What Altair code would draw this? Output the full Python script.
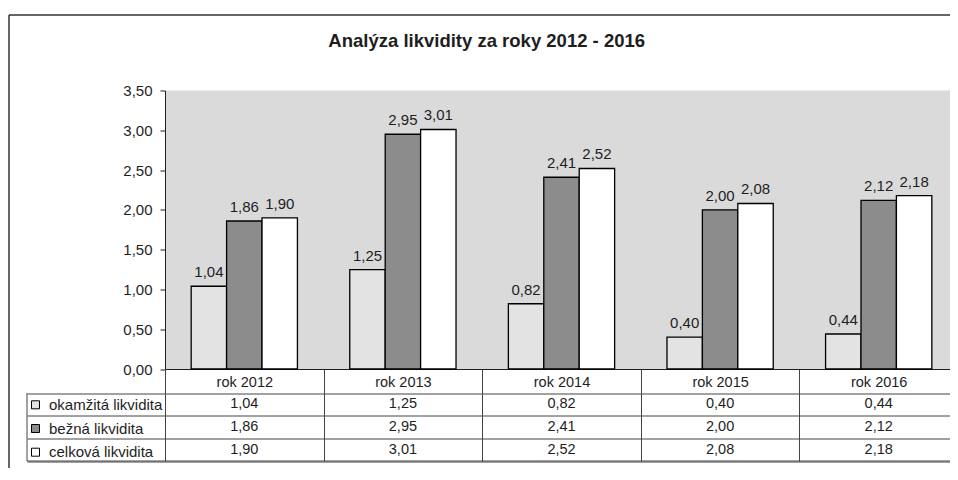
import altair as alt
import pandas as pd

years = ["rok 2012", "rok 2013", "rok 2014", "rok 2015", "rok 2016"]
series = ["okamžitá likvidita", "bežná likvidita", "celková likvidita"]
okamzita = [1.04, 1.25, 0.82, 0.40, 0.44]
bezna = [1.86, 2.95, 2.41, 2.00, 2.12]
celkova = [1.90, 3.01, 2.52, 2.08, 2.18]
y_ticks = [0, 0.5, 1.0, 1.5, 2.0, 2.5, 3.0, 3.5]
title_text = "Analýza likvidity za roky 2012 - 2016"
colors = ["#e3e3e3", "#8c8c8c", "#ffffff"]

rows = []
for s, vals in zip(series, [okamzita, bezna, celkova]):
    for yr, v in zip(years, vals):
        rows.append({"year": yr, "series": s, "value": v,
                     "label": f"{v:.2f}".replace(".", ",")})
df = pd.DataFrame(rows)

W, H = 785, 278.5          # visible plot area (chart is cut at the right, as in the scan)
XR = 793                   # full category range, partly beyond the right edge
TABLE_TOP, TABLE_BOTTOM = 302.5, 370.5
FONT = "Liberation Sans"
INK = "#1e1e1e"
LINE = "#444444"

x_bar = alt.X("year:N", sort=years,
              scale=alt.Scale(paddingInner=0.33, paddingOuter=0.165, range=[0, XR]),
              axis=None)
xoff = alt.XOffset("series:N", sort=series,
                   scale=alt.Scale(paddingInner=0, paddingOuter=0))
y_scale = alt.Scale(domain=[0, 3.5])

bars = alt.Chart(df).mark_bar(stroke="black", strokeWidth=1.3).encode(
    x=x_bar,
    xOffset=xoff,
    y=alt.Y("value:Q", scale=y_scale,
            axis=alt.Axis(orient="left", values=y_ticks,
                          labelExpr="replace(format(datum.value, '.2f'), '.', ',')",
                          title=None, grid=False, domainColor=INK, tickColor=INK,
                          tickSize=5, labelPadding=8, labelFontSize=15,
                          labelFont=FONT, labelColor=INK, domainWidth=1)),
    fill=alt.Fill("series:N", sort=series,
                  scale=alt.Scale(domain=series, range=colors),
                  legend=alt.Legend(orient="none", legendX=-137, legendY=306.8,
                                    title=None, symbolType="square", symbolSize=64,
                                    symbolStrokeColor="black", symbolStrokeWidth=1,
                                    labelFontSize=15, labelFont=FONT, labelColor=INK,
                                    rowPadding=7.7, padding=0, labelOffset=6)),
)

bar_labels = alt.Chart(df).mark_text(fontSize=15, font=FONT, color=INK,
                                     baseline="alphabetic", dy=-9).encode(
    x=x_bar,
    xOffset=xoff,
    y=alt.Y("value:Q", scale=y_scale, axis=None),
    text="label:N",
)

table = alt.Chart(df).mark_text(fontSize=14.5, font=FONT, color=INK,
                                baseline="middle").encode(
    x=alt.X("year:N", sort=years,
            scale=alt.Scale(paddingInner=0, paddingOuter=0, range=[0, XR]),
            axis=alt.Axis(orient="bottom", title=None, tickBand="extent",
                          tickSize=TABLE_BOTTOM - H, tickColor=LINE, tickWidth=1,
                          domainColor=INK, domainWidth=1, labelPadding=-85.5,
                          labelAngle=0, labelFontSize=14.5, labelFont=FONT,
                          labelColor=INK, labelBaseline="top")),
    y=alt.Y("series:N", sort=series,
            scale=alt.Scale(range=[TABLE_TOP, TABLE_BOTTOM], paddingInner=0,
                            paddingOuter=0),
            axis=alt.Axis(orient="left", title=None, tickBand="extent",
                          tickSize=138, tickColor=LINE, labels=False, domain=False,
                          grid=True, gridColor=LINE, gridWidth=1, gridOpacity=1)),
    text="label:N",
)

one = pd.DataFrame({"k": [0]})
frame_top = alt.Chart(one).mark_rule(color="#333333", strokeWidth=1.5).encode(
    x=alt.value(-156), x2=alt.value(XR), y=alt.value(-75.5))
frame_left = alt.Chart(one).mark_rule(color="#333333", strokeWidth=1.5).encode(
    x=alt.value(-156), y=alt.value(-75.5), y2=alt.value(400))
label_col_left = alt.Chart(one).mark_rule(color=LINE, strokeWidth=1).encode(
    x=alt.value(-138), y=alt.value(TABLE_TOP), y2=alt.value(TABLE_BOTTOM))
table_bottom = alt.Chart(one).mark_rule(color=LINE, strokeWidth=1).encode(
    x=alt.value(-138), x2=alt.value(XR), y=alt.value(TABLE_BOTTOM))
title = alt.Chart(one).mark_text(text=title_text, fontSize=18.5, fontWeight="bold",
                                 font=FONT, color=INK, baseline="alphabetic",
                                 align="center").encode(
    x=alt.value(321.7), y=alt.value(-43.8))

chart = alt.layer(
    bars, bar_labels, table, frame_top, frame_left, label_col_left, table_bottom,
    title
).resolve_scale(
    x="independent", y="independent"
).properties(
    width=W, height=H,
    autosize=alt.AutoSizeParams(type="none"),
    padding={"left": 157, "top": 82.5, "right": 0, "bottom": 99},
    background="white",
).configure_view(fill="#dadada", stroke=None)

chart.save("out.html", embed_options={"renderer": "svg", "actions": False})
